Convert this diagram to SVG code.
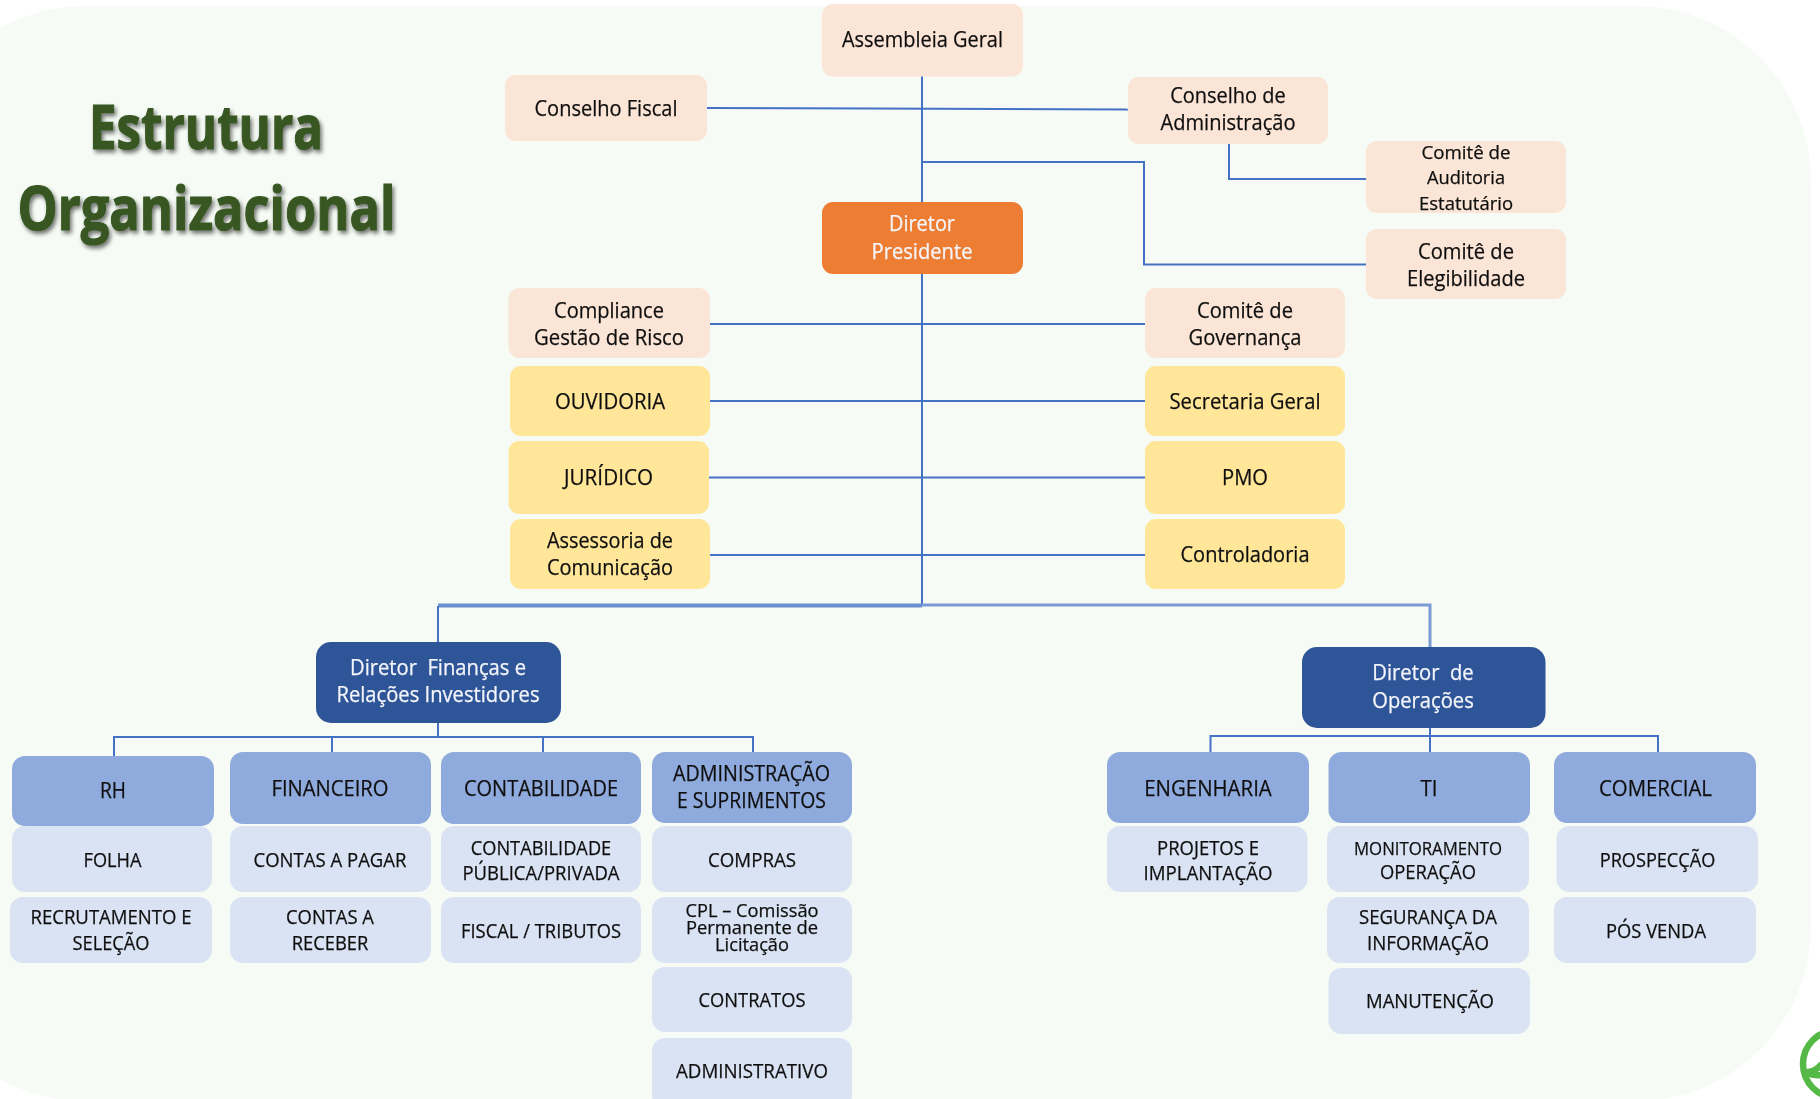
<svg xmlns="http://www.w3.org/2000/svg" width="1820" height="1099" viewBox="0 0 1820 1099">
<style>
text{font-family:"Open Sans","Liberation Sans",sans-serif;font-size:21px;fill:#111;stroke:#111;stroke-width:.25px;text-anchor:middle;transform:translateY(-.3px)}
.m{font-size:22px}
.s{font-size:19.5px}
.c{font-size:18px}
.w{fill:#f4f6fb;stroke:#f4f6fb}
.t{font-size:60px;font-weight:700;fill:#385723;stroke:#385723;stroke-width:1.2px;transform:none}
.p{fill:#FBE5D6}.y{fill:#FFE699}.o{fill:#ED7D31}.d{fill:#2F5597}.b{fill:#8FAADC}.l{fill:#DAE3F3}
rect.n{stroke:none}
#connectors path{fill:none;stroke:#4472C4;stroke-width:2}
</style>
<defs>
<filter id="soft" x="-2%" y="-2%" width="104%" height="104%"><feGaussianBlur stdDeviation="0.45"/></filter>
<filter id="shadow" x="-10%" y="-20%" width="125%" height="150%"><feGaussianBlur in="SourceAlpha" stdDeviation="2"/><feOffset dx="2" dy="3"/><feComponentTransfer><feFuncA type="linear" slope="0.55"/></feComponentTransfer><feMerge><feMergeNode/><feMergeNode in="SourceGraphic"/></feMerge></filter>
</defs>
<rect width="1820" height="1099" fill="#fff"/>
<rect x="-90" y="6" width="1901" height="1095" rx="175" ry="175" fill="#F6FBF5"/>
<g id="title" filter="url(#shadow)">
<text class="t" x="206" y="149" textLength="234" lengthAdjust="spacingAndGlyphs">Estrutura</text>
<text class="t" x="206.500" y="230" textLength="378" lengthAdjust="spacingAndGlyphs">Organizacional</text>
</g>
<g filter="url(#soft)">
<g id="connectors">
<path d="M922 76V606"/>
<path d="M707 108L1128 109.500"/>
<path d="M922 162H1144V264.500H1366"/>
<path d="M1229 144V179H1366"/>
<path d="M710 324H1145"/>
<path d="M710 401H1145"/>
<path d="M709 477.500H1145"/>
<path d="M710 555H1145"/>
<path d="M438 605.500H922" style="stroke-width:4;stroke:#6C8FD2"/>
<path d="M922 605H1430V647" style="stroke-width:3;stroke:#7C9AD6"/>
<path d="M438 606V642"/>
<path d="M438 723V737"/>
<path d="M114 756V737H753V752"/>
<path d="M332 752V737"/>
<path d="M543 752V737"/>
<path d="M1430 728V752"/>
<path d="M1210.500 752V736H1658V752"/>
</g>
<g id="assembleia"><rect class="n p" x="822" y="4" width="201" height="72.500" rx="11"/><text class="m" x="922.500" y="47" textLength="161" lengthAdjust="spacingAndGlyphs">Assembleia Geral</text></g>
<g id="conselho-fiscal"><rect class="n p" x="505" y="75" width="202" height="66" rx="11"/><text class="m" x="606" y="116" textLength="143" lengthAdjust="spacingAndGlyphs">Conselho Fiscal</text></g>
<g id="conselho-adm"><rect class="n p" x="1128" y="77" width="200" height="67" rx="11"/><text class="m" x="1228" y="103.500" textLength="115.500" lengthAdjust="spacingAndGlyphs">Conselho de</text><text class="m" x="1228" y="130.500" textLength="135" lengthAdjust="spacingAndGlyphs">Administração</text></g>
<g id="comite-auditoria"><rect class="n p" x="1366" y="141" width="200" height="72" rx="11"/><text class="c" x="1466" y="159.500" textLength="89" lengthAdjust="spacingAndGlyphs">Comitê de</text><text class="c" x="1466" y="184.500" textLength="78" lengthAdjust="spacingAndGlyphs">Auditoria</text><text class="c" x="1466" y="210" textLength="94" lengthAdjust="spacingAndGlyphs">Estatutário</text></g>
<g id="comite-elegibilidade"><rect class="n p" x="1366" y="229" width="200" height="70" rx="11"/><text class="m" x="1466" y="259" textLength="96" lengthAdjust="spacingAndGlyphs">Comitê de</text><text class="m" x="1466" y="286" textLength="118" lengthAdjust="spacingAndGlyphs">Elegibilidade</text></g>
<g id="presidente"><rect class="n o" x="822" y="202" width="201" height="72" rx="11"/><text class="m w" x="922" y="231.500" textLength="66" lengthAdjust="spacingAndGlyphs">Diretor</text><text class="m w" x="922" y="259" textLength="101" lengthAdjust="spacingAndGlyphs">Presidente</text></g>
<g id="compliance"><rect class="n p" x="508.500" y="288" width="201.500" height="70" rx="11"/><text class="m" x="609" y="318" textLength="110" lengthAdjust="spacingAndGlyphs">Compliance</text><text class="m" x="609" y="345" textLength="150" lengthAdjust="spacingAndGlyphs">Gestão de Risco</text></g>
<g id="ouvidoria"><rect class="n y" x="510" y="366" width="200" height="70" rx="11"/><text class="m" x="610" y="409" textLength="110" lengthAdjust="spacingAndGlyphs">OUVIDORIA</text></g>
<g id="juridico"><rect class="n y" x="508.500" y="441" width="200.500" height="73" rx="11"/><text class="m" x="608.500" y="485" textLength="89" lengthAdjust="spacingAndGlyphs">JURÍDICO</text></g>
<g id="assessoria"><rect class="n y" x="510" y="519" width="200" height="70" rx="11"/><text class="m" x="610" y="548" textLength="126" lengthAdjust="spacingAndGlyphs">Assessoria de</text><text class="m" x="610" y="575.500" textLength="126" lengthAdjust="spacingAndGlyphs">Comunicação</text></g>
<g id="comite-governanca"><rect class="n p" x="1145" y="288" width="200" height="70" rx="11"/><text class="m" x="1245" y="318" textLength="96" lengthAdjust="spacingAndGlyphs">Comitê de</text><text class="m" x="1245" y="345" textLength="113" lengthAdjust="spacingAndGlyphs">Governança</text></g>
<g id="secretaria"><rect class="n y" x="1145" y="366" width="200" height="70" rx="11"/><text class="m" x="1245" y="409" textLength="151" lengthAdjust="spacingAndGlyphs">Secretaria Geral</text></g>
<g id="pmo"><rect class="n y" x="1145" y="441" width="200" height="73" rx="11"/><text class="m" x="1245" y="485" textLength="46" lengthAdjust="spacingAndGlyphs">PMO</text></g>
<g id="controladoria"><rect class="n y" x="1145" y="519" width="200" height="70" rx="11"/><text class="m" x="1245" y="562" textLength="129" lengthAdjust="spacingAndGlyphs">Controladoria</text></g>
<g id="diretor-financas"><rect class="n d" x="316" y="642" width="245" height="81" rx="15"/><text class="m w" x="438" y="675.500" textLength="176" lengthAdjust="spacingAndGlyphs" xml:space="preserve">Diretor  Finanças e</text><text class="m w" x="438" y="702.500" textLength="203" lengthAdjust="spacingAndGlyphs">Relações Investidores</text></g>
<g id="diretor-operacoes"><rect class="n d" x="1302" y="647" width="243.500" height="81" rx="15"/><text class="m w" x="1423" y="680.500" textLength="101.500" lengthAdjust="spacingAndGlyphs" xml:space="preserve">Diretor  de</text><text class="m w" x="1423" y="708" textLength="101.500" lengthAdjust="spacingAndGlyphs">Operações</text></g>
<g id="rh"><rect class="n b" x="12" y="756" width="202" height="70" rx="13"/><text class="m" x="113" y="798" textLength="26" lengthAdjust="spacingAndGlyphs">RH</text></g>
<g id="financeiro"><rect class="n b" x="230" y="752" width="201" height="72" rx="13"/><text class="m" x="330" y="796" textLength="117" lengthAdjust="spacingAndGlyphs">FINANCEIRO</text></g>
<g id="contabilidade"><rect class="n b" x="441" y="752" width="200" height="72" rx="13"/><text class="m" x="541" y="796" textLength="154" lengthAdjust="spacingAndGlyphs">CONTABILIDADE</text></g>
<g id="adm-suprimentos"><rect class="n b" x="652" y="752" width="200" height="71" rx="13"/><text class="m" x="751.500" y="781" textLength="157" lengthAdjust="spacingAndGlyphs">ADMINISTRAÇÃO</text><text class="m" x="751.500" y="808" textLength="149" lengthAdjust="spacingAndGlyphs">E SUPRIMENTOS</text></g>
<g id="engenharia"><rect class="n b" x="1107" y="752" width="202" height="71" rx="13"/><text class="m" x="1208" y="796" textLength="127.500" lengthAdjust="spacingAndGlyphs">ENGENHARIA</text></g>
<g id="ti"><rect class="n b" x="1328.500" y="752" width="201.500" height="71" rx="13"/><text class="m" x="1429" y="796" textLength="17" lengthAdjust="spacingAndGlyphs">TI</text></g>
<g id="comercial"><rect class="n b" x="1554" y="752" width="202" height="71" rx="13"/><text class="m" x="1655.500" y="796" textLength="113" lengthAdjust="spacingAndGlyphs">COMERCIAL</text></g>
<g id="folha"><rect class="n l" x="12" y="826" width="200" height="66" rx="13"/><text class="s" x="112.500" y="867" textLength="58" lengthAdjust="spacingAndGlyphs">FOLHA</text></g>
<g id="recrutamento"><rect class="n l" x="10" y="897" width="202" height="66" rx="13"/><text class="s" x="111" y="924" textLength="161" lengthAdjust="spacingAndGlyphs">RECRUTAMENTO E</text><text class="s" x="111" y="950" textLength="77" lengthAdjust="spacingAndGlyphs">SELEÇÃO</text></g>
<g id="contas-pagar"><rect class="n l" x="230" y="826" width="201" height="66" rx="13"/><text class="s" x="330" y="867" textLength="153" lengthAdjust="spacingAndGlyphs">CONTAS A PAGAR</text></g>
<g id="contas-receber"><rect class="n l" x="230" y="897" width="201" height="66" rx="13"/><text class="s" x="330" y="924" textLength="88" lengthAdjust="spacingAndGlyphs">CONTAS A</text><text class="s" x="330" y="950" textLength="76.500" lengthAdjust="spacingAndGlyphs">RECEBER</text></g>
<g id="contabilidade-publica"><rect class="n l" x="441" y="826" width="200" height="66" rx="13"/><text class="s" x="541" y="855" textLength="140.500" lengthAdjust="spacingAndGlyphs">CONTABILIDADE</text><text class="s" x="541" y="880.500" textLength="157" lengthAdjust="spacingAndGlyphs">PÚBLICA/PRIVADA</text></g>
<g id="fiscal"><rect class="n l" x="441" y="897" width="200" height="66" rx="13"/><text class="s" x="541" y="938" textLength="160" lengthAdjust="spacingAndGlyphs">FISCAL / TRIBUTOS</text></g>
<g id="compras"><rect class="n l" x="652" y="826" width="200" height="66" rx="13"/><text class="s" x="752" y="867" textLength="88" lengthAdjust="spacingAndGlyphs">COMPRAS</text></g>
<g id="cpl"><rect class="n l" x="652" y="897" width="200" height="66" rx="13"/><text class="c" x="752" y="917" textLength="133" lengthAdjust="spacingAndGlyphs">CPL – Comissão</text><text class="c" x="752" y="934.500" textLength="132" lengthAdjust="spacingAndGlyphs">Permanente de</text><text class="c" x="752" y="951" textLength="74" lengthAdjust="spacingAndGlyphs">Licitação</text></g>
<g id="contratos"><rect class="n l" x="652" y="967" width="200" height="65" rx="13"/><text class="s" x="752" y="1007" textLength="107" lengthAdjust="spacingAndGlyphs">CONTRATOS</text></g>
<g id="administrativo"><rect class="n l" x="652" y="1038" width="200" height="70" rx="13"/><text class="s" x="752" y="1078" textLength="152" lengthAdjust="spacingAndGlyphs">ADMINISTRATIVO</text></g>
<g id="projetos"><rect class="n l" x="1107" y="826" width="200.500" height="66" rx="13"/><text class="s" x="1208" y="855" textLength="102" lengthAdjust="spacingAndGlyphs">PROJETOS E</text><text class="s" x="1208" y="880.500" textLength="129" lengthAdjust="spacingAndGlyphs">IMPLANTAÇÃO</text></g>
<g id="monitoramento"><rect class="n l" x="1327" y="826" width="202" height="66" rx="13"/><text class="c" x="1428" y="855" textLength="148" lengthAdjust="spacingAndGlyphs">MONITORAMENTO</text><text class="s" x="1428" y="879" textLength="96" lengthAdjust="spacingAndGlyphs">OPERAÇÃO</text></g>
<g id="seguranca"><rect class="n l" x="1327" y="897" width="202" height="66" rx="13"/><text class="s" x="1428" y="924" textLength="138" lengthAdjust="spacingAndGlyphs">SEGURANÇA DA</text><text class="s" x="1428" y="950" textLength="122" lengthAdjust="spacingAndGlyphs">INFORMAÇÃO</text></g>
<g id="manutencao"><rect class="n l" x="1328.500" y="968" width="201.500" height="66" rx="13"/><text class="s" x="1430" y="1008.500" textLength="128" lengthAdjust="spacingAndGlyphs">MANUTENÇÃO</text></g>
<g id="prospeccao"><rect class="n l" x="1556.500" y="826" width="201.500" height="66" rx="13"/><text class="s" x="1657.500" y="867" textLength="115.500" lengthAdjust="spacingAndGlyphs">PROSPECÇÃO</text></g>
<g id="pos-venda"><rect class="n l" x="1554" y="897" width="202" height="66" rx="13"/><text class="s" x="1656" y="938" textLength="100" lengthAdjust="spacingAndGlyphs">PÓS VENDA</text></g>
<g id="logo" fill="none" stroke="#57B947" stroke-width="6.500">
<circle cx="1837" cy="1064" r="34"/>
<path d="M1806 1072Q1814 1073 1822 1064"/>
<path d="M1806 1073Q1814 1076 1822 1075"/>
</g>
</g>
</svg>
